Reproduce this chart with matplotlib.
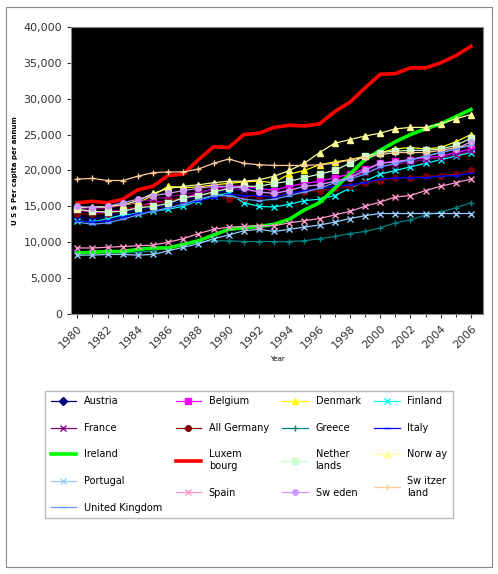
import matplotlib
matplotlib.use("Agg")
import matplotlib.pyplot as plt
from matplotlib.patches import Rectangle
from matplotlib.ticker import FuncFormatter

years = list(range(1980, 2007))
austria = [13.5,13.3,13.6,14,14.5,14.8,15.2,15.8,16.3,16.8,17.2,17.4,17.5,17.4,17.8,18.2,18.5,19,19.5,20,21,21.3,21.5,21.8,22,22.5,22.8]
belgium = [14.5,14.2,14.2,14.5,15,15.5,15.8,16.2,16.8,17.5,17.8,17.8,17.5,17.2,17.8,18.2,18.5,19,19.5,20.2,21,21.3,21.5,21.8,22,22.5,23]
denmark = [14.8,14.8,14.9,15.2,15.5,16.5,17.8,17.6,17.7,18,18.2,18.4,18.5,18.3,19.5,20,20.8,21.2,21.5,22,22.5,23,23.2,23,23.2,24,25]
finland = [13,12.8,13.3,13.8,14,14.3,14.6,15,15.8,16.5,16.8,15.5,15,14.9,15.3,15.8,16,16.5,17.5,18.5,19.5,20,20.5,21,21.5,22,22.5]
france = [14.8,14.6,14.7,15.2,15.6,16,16.3,16.7,17,17.3,17.5,17.3,17,16.9,17.3,17.8,18,18.5,19,19.7,20.5,20.8,21.2,21.5,21.8,22.2,22.7]
germany = [14,13.9,14,14.5,15,15.3,15.8,16.2,16.5,16.8,16,16.2,16.5,16.5,16.8,17,17.2,17.5,17.8,18.2,18.5,19,19,19.2,19.3,19.5,20]
greece = [8.5,8.6,8.6,8.5,8.6,8.8,9.2,9.6,10,10.2,10.2,10.1,10.1,10.1,10.1,10.2,10.5,10.8,11.2,11.5,12,12.7,13.1,13.8,14.2,14.8,15.5]
italy = [13,12.8,13,13.5,14,14.3,14.8,15.3,15.8,16.2,16.7,16.5,16.5,16.3,16.8,17.2,17.5,17.8,18,18.3,18.8,19,19,19,19.2,19.3,19.6]
ireland = [8.5,8.6,8.7,8.7,9,9.2,9.2,9.7,10.2,11,11.8,12,12.2,12.5,13.2,14.5,15.5,17.5,19.5,21.5,22.8,24,25,25.8,26.5,27.5,28.5]
luxembourg = [15.5,15.7,15.5,16,17.3,17.8,19.3,19.5,21.5,23.3,23.2,25,25.2,26,26.3,26.2,26.5,28.2,29.5,31.5,33.4,33.5,34.3,34.3,35,36,37.3]
netherlands = [14.6,14.3,14.2,14.3,14.8,15,15.4,16.2,16.5,17,17.5,17.8,17.8,18.2,18.5,19,19.5,20,21,22,22.5,22.7,22.8,22.8,23,23.5,24.5]
norway = [14.8,14.9,15,15.2,15.8,16.8,17.5,17.8,18,18.3,18.5,18.5,18.7,19.2,20,21,22.5,23.8,24.3,24.8,25.2,25.8,26,26,26.5,27.2,27.8]
portugal = [8.2,8.2,8.3,8.3,8.2,8.3,8.8,9.3,9.8,10.5,11,11.6,11.8,11.5,11.8,12.1,12.4,12.8,13.3,13.7,14,14,14,14,14,14,14]
spain = [9.2,9.2,9.3,9.4,9.5,9.6,10,10.5,11.2,11.8,12.1,12.2,12.3,12.3,12.7,13,13.3,13.8,14.3,15,15.6,16.3,16.5,17.2,17.8,18.3,18.8]
sweden = [15,14.8,15,15.5,16,16.5,16.8,17.2,17.5,17.8,17.8,17.5,17,16.8,17.2,17.8,18,18.5,19,20,21,21.2,21.5,22,22.5,23,24]
switzerland = [18.8,18.9,18.6,18.6,19.2,19.7,19.8,19.8,20.2,21,21.6,21,20.8,20.7,20.7,20.7,20.8,21,21.5,21.8,22.2,22.5,22.5,22.5,22.8,23.2,23.5]
uk = [12.8,12.5,12.7,13.2,13.8,14.3,14.8,15.3,16,16.5,16.5,16,15.8,16,16.5,17,17.5,18.3,18.8,19.5,20.5,21,21.5,22,22.5,23,23.5]

series = [
    ("Austria", austria, "#000080", "D", 1),
    ("Belgium", belgium, "#FF00FF", "s", 1),
    ("Denmark", denmark, "#FFFF00", "^", 1),
    ("Finland", finland, "#00FFFF", "x", 1),
    ("France", france, "#800080", "x", 1),
    ("All Germany", germany, "#800000", "o", 1),
    ("Greece", greece, "#008080", "+", 1),
    ("Italy", italy, "#0000FF", "_", 1),
    ("Ireland", ireland, "#00FF00", None, 2.6),
    ("Luxem\nbourg", luxembourg, "#FF0000", None, 2.6),
    ("Nether\nlands", netherlands, "#CCFFCC", "s", 1),
    ("Norw ay", norway, "#FFFF99", "^", 1),
    ("Portugal", portugal, "#99CCFF", "x", 1),
    ("Spain", spain, "#FF99CC", "x", 1),
    ("Sw eden", sweden, "#CC99FF", "o", 1),
    ("Sw itzer\nland", switzerland, "#FFCC99", "+", 1),
    ("United Kingdom", uk, "#6699FF", "_", 1),
]

fig = plt.figure(figsize=(4.98, 5.74), dpi=100)
fig.patches.append(Rectangle((0.012, 0.012), 0.976, 0.976, transform=fig.transFigure,
                             fill=False, edgecolor="#888888", lw=0.8))
ax = fig.add_axes([0.143, 0.453, 0.827, 0.500])
ax.set_facecolor("black")
for name, vals, c, m, lw in series:
    ax.plot(years, [v * 1000 for v in vals], color=c, lw=0.9 if lw == 1 else lw,
            marker=m, ms=4, mew=1, label=name)
ax.set_xlim(1979.6, 2006.8)
ax.set_ylim(0, 40000)
ax.set_yticks(range(0, 40001, 5000))
ax.yaxis.set_major_formatter(FuncFormatter(lambda v, p: f"{int(v):,}"))
ax.set_xticks(range(1980, 2007, 2))
ax.set_xticks(range(1980, 2007), minor=True)
plt.setp(ax.get_xticklabels(), rotation=45, ha="right", rotation_mode="anchor")
ax.tick_params(labelsize=8, colors="#333333", length=3)
ax.tick_params(axis="x", which="minor", length=2)
ax.set_xlabel("Year", fontsize=5)
ax.set_ylabel("U S $ Per capita per annum", fontsize=5, fontweight="bold")
for s in ax.spines.values():
    s.set_color("#888888")

handles, labels = ax.get_legend_handles_labels()
ncol = 4
nrow = 5
order = []
for c in range(ncol):
    for r in range(nrow):
        i = r * ncol + c
        if i < len(handles):
            order.append(i)
leg = fig.legend([handles[i] for i in order], [labels[i] for i in order],
                 ncol=ncol, loc="upper left",
                 fontsize=7, frameon=True, fancybox=False, edgecolor="#aaaaaa",
                 labelspacing=1.7, columnspacing=2.2, handlelength=2.6,
                 borderpad=0.6, mode="expand",
                 bbox_to_anchor=(0.08, 0.025, 0.84, 0.303),
                 bbox_transform=fig.transFigure)
fig.savefig("out.png", dpi=100)
